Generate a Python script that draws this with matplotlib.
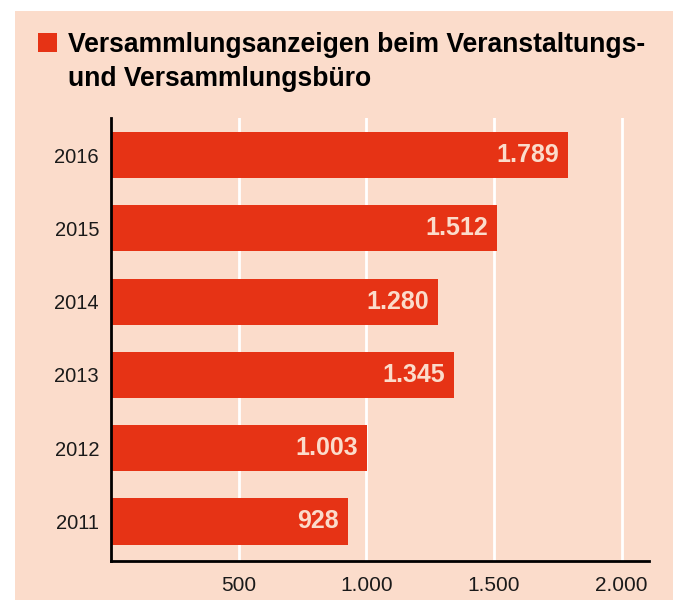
import matplotlib
matplotlib.use("Agg")
import matplotlib.pyplot as plt
from matplotlib.patches import Rectangle

years = ["2011", "2012", "2013", "2014", "2015", "2016"]
values = [928, 1003, 1345, 1280, 1512, 1789]
value_labels = ["928", "1.003", "1.345", "1.280", "1.512", "1.789"]
xticks = [500, 1000, 1500, 2000]
xtick_labels = ["500", "1.000", "1.500", "2.000"]
title_lines = ["Versammlungsanzeigen beim Veranstaltungs-", "und Versammlungsbüro"]

BG = "#FBDCCB"
RED = "#E63315"

W, H = 678, 603
fig = plt.figure(figsize=(W / 100, H / 100), dpi=100)
fig.patch.set_facecolor("white")

# panel background
fig.patches.append(Rectangle((15 / W, 3 / H), (673 - 15) / W, (603 - 11 - 3) / H,
                             transform=fig.transFigure, facecolor=BG, edgecolor="none", zorder=-10))

# red square
fig.patches.append(Rectangle((38 / W, 1 - 52 / H), 19 / W, 19 / H,
                             transform=fig.transFigure, facecolor=RED, edgecolor="none", zorder=-5))

title_font = ["Liberation Sans Narrow", "Liberation Sans", "DejaVu Sans"]
fig.text(68 / W, 1 - 52 / H, title_lines[0], fontsize=19.1, fontweight="bold",
         family=title_font, va="baseline", ha="left", color="black")
fig.text(68 / W, 1 - 86 / H, title_lines[1], fontsize=19.1, fontweight="bold",
         family=title_font, va="baseline", ha="left", color="black")

ax = fig.add_axes([111 / W, 1 - 561 / H, (649 - 111) / W, (561 - 118) / H])
ax.patch.set_visible(False)
ax.set_zorder(1)

ypos = list(range(len(years)))
ax.barh(ypos, values, height=0.63, color=RED, zorder=3)

for y, v, lab in zip(ypos, values, value_labels):
    ax.text(v - 35, y, lab, ha="right", va="center", fontsize=18, fontweight="bold",
            color=BG, family=["Liberation Sans", "DejaVu Sans"], zorder=4)

ax.set_xlim(0, 2107)
ax.set_ylim(-0.539, 5.505)

ax.set_xticks(xticks)
ax.set_xticklabels(xtick_labels, family=["Liberation Sans", "DejaVu Sans"], fontsize=15, color="#1a1a1a")
ax.set_yticks(ypos)
ax.set_yticklabels(years, family=["Liberation Sans", "DejaVu Sans"], fontsize=14.5, color="#1a1a1a")
ax.tick_params(axis="both", length=0)
ax.tick_params(axis="x", pad=10.5)
ax.tick_params(axis="y", pad=8.6)

ax.grid(axis="x", color="white", linewidth=2.0, zorder=1)
ax.set_axisbelow(True)
for s in ["top", "right"]:
    ax.spines[s].set_visible(False)
for s in ["left", "bottom"]:
    ax.spines[s].set_color("black")
    ax.spines[s].set_linewidth(2.0)
    ax.spines[s].set_zorder(5)

fig.savefig("out.png", dpi=100, facecolor="white")
